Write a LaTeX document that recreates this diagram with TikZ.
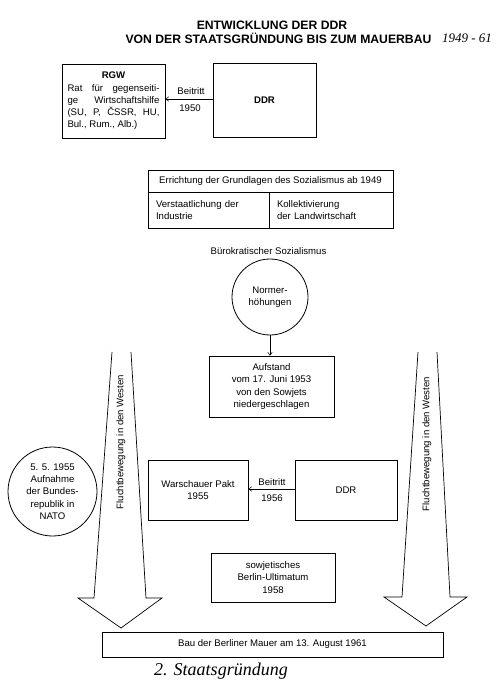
\documentclass[tikz,border=0pt]{standalone}
\usepackage{fontspec}
\setmainfont{Liberation Sans}
\newfontfamily\handfont{Liberation Serif}
\usetikzlibrary{arrows.meta}
\begin{document}
\begin{tikzpicture}[x=1pt,y=-1pt,
  every node/.style={font=\fontsize{9.6}{12.3}\selectfont, inner sep=0pt},
  box/.style={draw, line width=0.7pt, align=center},
  conn/.style={line width=0.5pt, -{Straight Barb[length=3pt,width=4.5pt]}},
  bigarrow/.style={line width=0.7pt, line join=miter},
  titlefont/.style={font=\bfseries\fontsize{12.2}{13}\selectfont},
  hand/.style={font=\handfont\itshape\fontsize{13}{14}\selectfont}
]
\useasboundingbox[fill=white] (0,0) rectangle (501,700);

% title
\node[titlefont] (title1) at (272,25) {ENTWICKLUNG DER DDR};
\node[titlefont] (title2) at (278.5,38) {VON DER STAATSGRÜNDUNG BIS ZUM MAUERBAU};
\node[hand] (years) at (467,38) {1949 - 61};

% RGW and DDR
\node[box, minimum width=103, minimum height=74] (rgw) at (113.5,101)
  {\textbf{RGW}\\
   \makebox[92pt][s]{Rat für gegenseiti-}\\
   \makebox[92pt][s]{ge Wirtschaftshilfe}\\
   \makebox[92pt][s]{(SU, P, ČSSR, HU,}\\
   \makebox[92pt][l]{Bul., Rum., Alb.)}};
\node[box, minimum width=103, minimum height=74, font=\bfseries\fontsize{9.6}{12.3}\selectfont] (ddr1) at (264.5,100) {DDR};
\draw[conn] (ddr1.west) ++(0,-1) coordinate (d1w) -- (d1w -| rgw.east);
\node (b1) at (191,91) {Beitritt};
\node (y1) at (190,108) {1950};

% Errichtung
\node[box, minimum width=245, minimum height=22] (err) at (270.5,181)
  {Errichtung der Grundlagen des Sozialismus ab 1949};
\node[box, minimum width=121, minimum height=36, text width=105, align=left] (ind) at (208.5,210)
  {Verstaatlichung der\\Industrie};
\node[box, minimum width=124, minimum height=36, text width=108, align=left] (lw) at (331,210)
  {Kollektivierung\\der Landwirtschaft};

\node (buero) at (268.5,251) {Bürokratischer Sozialismus};

% Normerhöhungen
\node[draw, circle, line width=0.8pt, minimum size=76, align=center] (norm) at (270,297)
  {Normer-\\höhungen};
\node[box, minimum width=125, minimum height=61] (aufst) at (271.5,386.5)
  {Aufstand\\vom 17. Juni 1953\\von den Sowjets\\niedergeschlagen};
\draw[conn] (norm.south) -- (norm.south |- aufst.north);

% big arrows
\draw[bigarrow] (112,352) -- (94,598) -- (78,598) -- (121,628) -- (162,598) -- (146,598) -- (131,352);
\draw[bigarrow] (418,352) -- (402,597) -- (384,597) -- (426,626) -- (467,597) -- (450,597) -- (437,352);
\node[rotate=90] (flL) at (121,442) {Fluchtbewegung in den Westen};
\node[rotate=90] (flR) at (427,444) {Fluchtbewegung in den Westen};

% NATO
\node[draw, circle, line width=0.8pt, minimum size=89, align=center] (nato) at (52.5,491.5)
  {5. 5. 1955\\Aufnahme\\der Bundes-\\republik in\\NATO};

% Warschauer Pakt
\node[box, minimum width=100, minimum height=60] (wp) at (198,490)
  {Warschauer Pakt\\1955};
\node[box, minimum width=102, minimum height=60] (ddr2) at (346,490) {DDR};
\draw[conn] (ddr2.west) ++(0,-1) coordinate (d2w) -- (d2w -| wp.east);
\node (b2) at (272,482) {Beitritt};
\node (y2) at (272,498) {1956};

% Ultimatum
\node[box, minimum width=124, minimum height=49] (ult) at (273,577.5)
  {sowjetisches\\Berlin-Ultimatum\\1958};

% Mauerbau
\node[box, minimum width=341, minimum height=25] (bau) at (272.5,644.5)
  {Bau der Berliner Mauer am 13. August 1961};
\node[hand, font=\handfont\itshape\fontsize{18}{20}\selectfont] (sg) at (221,671) {2. Staatsgründung};
\end{tikzpicture}
\end{document}
